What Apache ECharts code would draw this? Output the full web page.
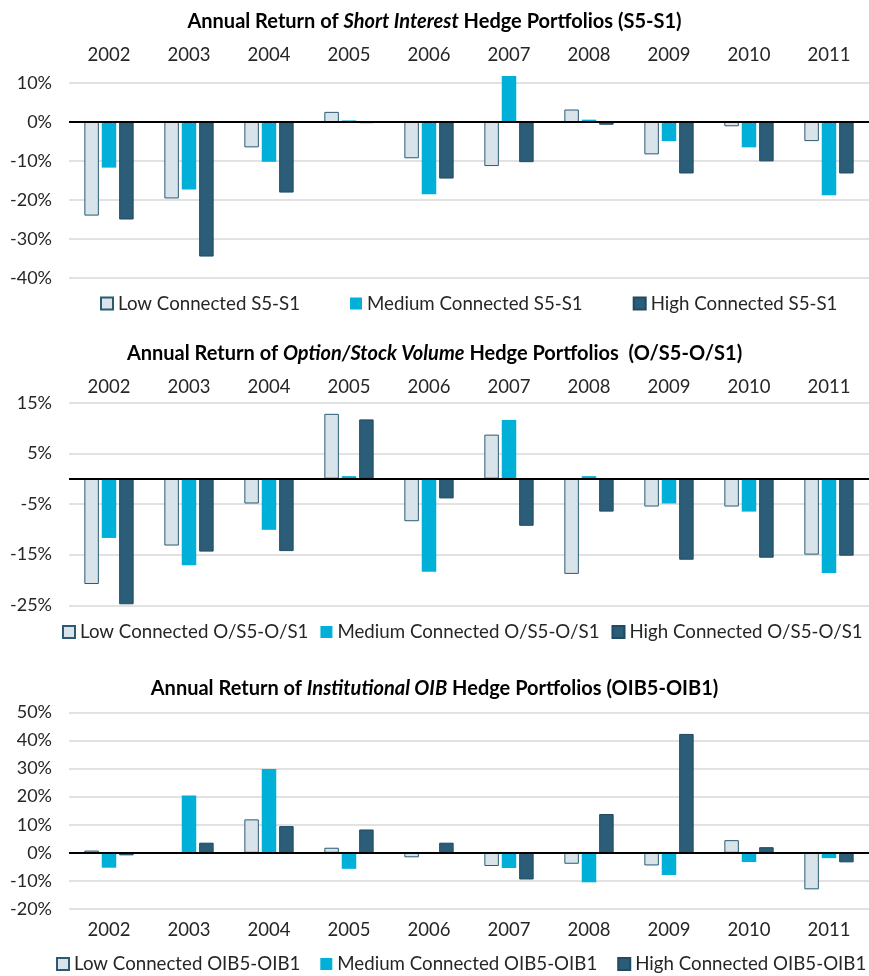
<!DOCTYPE html>
<html>
<head>
<meta charset="utf-8">
<script src="https://cdn.jsdelivr.net/npm/echarts@6/dist/echarts.min.js"></script>
<style>
  html, body { margin: 0; padding: 0; background: #fff; }
  #chart { width: 869px; height: 976px; }
</style>
</head>
<body>
<div id="chart"></div>
<script>
// categories shared by all three panels
var years = ['2002', '2003', '2004', '2005', '2006', '2007', '2008', '2009', '2010', '2011'];

// panel 1: short interest (S5-S1), in %
var siLow    = [-24.0, -19.6, -6.5, 2.6, -9.3, -11.3, 3.2, -8.3, -1.1, -4.9];
var siMedium = [-11.7, -17.3, -10.2, 0.4, -18.5, 11.8, 0.6, -4.9, -6.5, -18.8];
var siHigh   = [-25.0, -34.5, -18.1, -0.3, -14.5, -10.3, -0.7, -13.2, -10.1, -13.2];

// panel 2: option/stock volume (O/S5-O/S1), in %
var osLow    = [-20.8, -13.2, -4.9, 12.8, -8.4, 8.7, -18.8, -5.5, -5.5, -15.0];
var osMedium = [-11.7, -17.1, -10.1, 0.5, -18.4, 11.6, 0.5, -4.9, -6.5, -18.6];
var osHigh   = [-24.8, -14.4, -14.3, 11.7, -3.9, -9.3, -6.5, -16.0, -15.6, -15.2];

// panel 3: institutional OIB (OIB5-OIB1), in %
var oibLow    = [0.8, -0.2, 11.9, 1.8, -1.6, -4.7, -3.9, -4.5, 4.5, -13.0];
var oibMedium = [-5.3, 20.4, 29.8, -5.7, 0.3, -5.4, -10.5, -7.9, -3.3, -1.9];
var oibHigh   = [-0.9, 3.6, 9.5, 8.3, 3.6, -9.5, 13.8, 42.3, 2.0, -3.4];

var FONT = 'Lato';
var TXT = '#262626';

var styles = {
    low:    { color: '#D9E3EA', borderColor: '#2B5A73', borderWidth: 1 },
    medium: { color: '#00B0D8' },
    high:   { color: '#2B5D79', borderColor: '#1F4A62', borderWidth: 1 }
};

var panels = [
    { italic: 'Short Interest', tail: ' Hedge Portfolios (S5-S1)', suffix: 'S5-S1',
      low: siLow, medium: siMedium, high: siHigh,
      min: -40, max: 10, top: 83, height: 195, labelPos: 'top', labelMargin: 18,
      titleTop: 7, legendTop: 294, legendLeft: 100, legendGap: 50 },
    { italic: 'Option/Stock Volume', tail: ' Hedge Portfolios  (O/S5-O/S1)', suffix: 'O/S5-O/S1',
      low: osLow, medium: osMedium, high: osHigh,
      min: -25, max: 15, top: 402.7, height: 202.6, labelPos: 'top', labelMargin: 6,
      titleTop: 339, legendTop: 622.5, legendLeft: 62, legendGap: 12 },
    { italic: 'Institutional OIB', tail: ' Hedge Portfolios (OIB5-OIB1)', suffix: 'OIB5-OIB1',
      low: oibLow, medium: oibMedium, high: oibHigh,
      min: -20, max: 50, top: 712.3, height: 196.7, labelPos: 'bottom', labelMargin: 12,
      titleTop: 674, legendTop: 954.5, legendLeft: 56, legendGap: 20 }
];

var option = {
    animation: false,
    backgroundColor: '#fff',
    textStyle: { fontFamily: FONT, color: TXT },
    title: [], legend: [], grid: [], xAxis: [], yAxis: [], series: []
};

panels.forEach(function(p, i) {
    option.title.push({
        text: '{b|Annual Return of }{i|' + p.italic + '}{b|' + p.tail + '}',
        left: 'center',
        top: p.titleTop,
        textStyle: {
            rich: {
                b: { fontFamily: FONT, fontWeight: 'bold', fontSize: 20, color: '#000' },
                i: { fontFamily: FONT, fontWeight: 'bold', fontStyle: 'italic', fontSize: 20, color: '#000' }
            }
        }
    });
    var names = ['Low Connected ' + p.suffix, 'Medium Connected ' + p.suffix, 'High Connected ' + p.suffix];
    option.legend.push({
        data: names,
        left: p.legendLeft,
        top: p.legendTop,
        width: 860,
        padding: 0,
        icon: 'rect',
        itemWidth: 12,
        itemHeight: 12,
        itemGap: p.legendGap,
        textStyle: { fontFamily: FONT, fontSize: 18.7, color: TXT }
    });
    option.grid.push({ left: 69, right: -6, top: p.top, height: p.height });
    option.xAxis.push({
        type: 'category',
        gridIndex: i,
        data: years,
        position: p.labelPos,
        axisLine: { show: false, onZero: false },
        axisTick: { show: false },
        axisLabel: { margin: p.labelMargin, fontFamily: FONT, fontSize: 18.5, color: TXT }
    });
    option.yAxis.push({
        type: 'value',
        gridIndex: i,
        min: p.min,
        max: p.max,
        interval: 10,
        axisLine: { show: false },
        axisTick: { show: false },
        axisLabel: { formatter: '{value}%', margin: 17, fontFamily: FONT, fontSize: 18, color: TXT },
        splitLine: { lineStyle: { color: '#D9D9D9', width: 1.5 } }
    });
    var vals = [p.low, p.medium, p.high];
    var keys = ['low', 'medium', 'high'];
    for (var k = 0; k < 3; k++) {
        var s = {
            name: names[k],
            type: 'bar',
            xAxisIndex: i,
            yAxisIndex: i,
            data: vals[k],
            barWidth: 14.5,
            barGap: '20%',
            clip: false,   // 2007 medium in panel 1 pokes above the 10% line
            itemStyle: styles[keys[k]]
        };
        if (k === 2) {
            // black zero line across the plot
            s.markLine = {
                silent: true,
                symbol: 'none',
                label: { show: false },
                lineStyle: { color: '#000', width: 2, type: 'solid' },
                data: [{ yAxis: 0 }]
            };
        }
        option.series.push(s);
    }
});

var chart = echarts.init(document.getElementById('chart'));
chart.setOption(option);
</script>
</body>
</html>
